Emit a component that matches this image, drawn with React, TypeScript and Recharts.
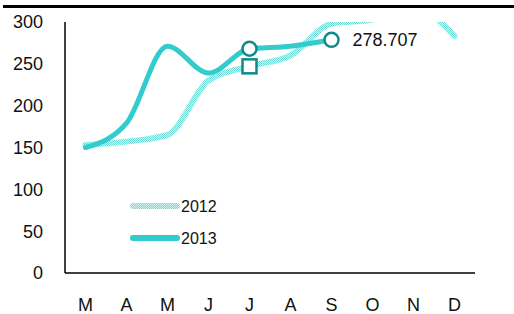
import React from "react";
import { LineChart, Line, XAxis, YAxis } from "recharts";

const months = ["M", "A", "M", "J", "J", "A", "S", "O", "N", "D"];
const series2012 = [153, 157, 165, 230, 247, 260, 298, 303, 318, 283];
const series2013 = [150, 179, 271, 239, 268, 271, 278.707, null, null, null];
const yTicks = [0, 50, 100, 150, 200, 250, 300];

const chartData = months.map((m, i) => ({
  name: m,
  y2012: series2012[i],
  y2013: series2013[i],
}));

const FONT = '"Liberation Sans", Arial, sans-serif';
const MAIN = "#33cccc";
const DARK = "#11898a";

// hollow circle on July 2013, circle + value label on the last 2013 point
const Dot2013 = (props: any) => {
  const { cx, cy, index, value } = props;
  if (index !== 4 && index !== 6) return <g key={`d13-${index}`} />;
  return (
    <g key={`d13-${index}`}>
      <circle cx={cx} cy={cy} r={7} fill="#fff" stroke={DARK} strokeWidth={2.5} />
      {index === 6 && (
        <text x={cx + 21} y={cy} dy="0.36em" fontSize={18} fontFamily={FONT} fill="#111">
          {value}
        </text>
      )}
    </g>
  );
};

// hollow square on July 2012
const Dot2012 = (props: any) => {
  const { cx, cy, index } = props;
  if (index !== 4) return <g key={`d12-${index}`} />;
  return (
    <rect key={`d12-${index}`} x={cx - 7} y={cy - 7} width={14} height={14} fill="#fff" stroke={DARK} strokeWidth={2.5} />
  );
};

export default function App() {
  return (
    <div style={{ position: "absolute", left: 0, top: 0, width: 514, height: 314, background: "#fff" }}>
      <div style={{ position: "absolute", left: 3, top: 5, width: 511, height: 3, background: "#000" }} />
      <svg width={0} height={0} style={{ position: "absolute" }}>
        <defs>
          <pattern id="hatch" width={2} height={2} patternUnits="userSpaceOnUse">
            <rect width={2} height={2} fill="#d2f5f3" />
            <rect width={1} height={1} fill="#6fdad6" />
            <rect x={1} y={1} width={1} height={1} fill="#6fdad6" />
          </pattern>
        </defs>
      </svg>
      <LineChart
        width={514}
        height={314}
        data={chartData}
        margin={{ top: 22, right: 39, bottom: 0, left: 0 }}
        style={{ fontFamily: FONT }}
      >
        <XAxis
          dataKey="name"
          height={41}
          padding={{ left: 20.5, right: 20.5 }}
          axisLine={{ stroke: "#000", strokeWidth: 1.5 }}
          tickLine={false}
          tickMargin={19}
          interval={0}
          tick={{ fontSize: 18, fill: "#111", fontFamily: FONT }}
        />
        <YAxis
          width={65}
          domain={[0, 300]}
          ticks={yTicks}
          allowDataOverflow
          axisLine={{ stroke: "#000", strokeWidth: 1.5 }}
          tickLine={false}
          tickMargin={16}
          tick={{ fontSize: 18, fill: "#111", fontFamily: FONT }}
        />
        <Line
          type="monotone"
          dataKey="y2012"
          stroke="url(#hatch)"
          strokeWidth={6}
          strokeLinecap="round"
          dot={Dot2012}
          activeDot={false}
          isAnimationActive={false}
        />
        <Line
          type="monotone"
          dataKey="y2013"
          stroke={MAIN}
          strokeWidth={5}
          strokeLinecap="round"
          dot={Dot2013}
          activeDot={false}
          isAnimationActive={false}
        />
      </LineChart>
      <svg width={100} height={50} style={{ position: "absolute", left: 127, top: 198 }}>
        <line x1={6} y1={8} x2={50} y2={8} stroke="url(#hatch)" strokeWidth={6} strokeLinecap="round" />
        <text x={54} y={8} dy="0.36em" fontSize={16} fontFamily={FONT} fill="#111">2012</text>
        <line x1={6} y1={40} x2={50} y2={40} stroke={MAIN} strokeWidth={6} strokeLinecap="round" />
        <text x={54} y={40} dy="0.36em" fontSize={16} fontFamily={FONT} fill="#111">2013</text>
      </svg>
    </div>
  );
}
